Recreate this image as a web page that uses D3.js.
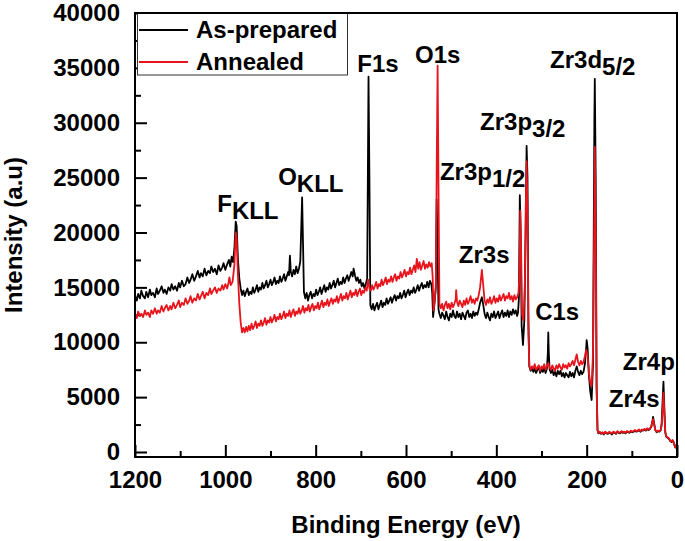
<!DOCTYPE html>
<html><head><meta charset="utf-8">
<script src="https://cdn.jsdelivr.net/npm/d3@7"></script>
<style>
html,body{margin:0;padding:0;background:#fff;}
text{font-family:"Liberation Sans",Arial,sans-serif;font-weight:bold;}
</style></head>
<body><svg id="c" width="685" height="541"></svg>
<script>
// ---- data ----
const xTicks = [1200, 1000, 800, 600, 400, 200, 0];
const yTicks = [0, 5000, 10000, 15000, 20000, 25000, 30000, 35000, 40000];
const seriesNames = ["As-prepared", "Annealed"];

const asPrepared = [
[1200,14300],[1196,13800],[1193,14400],[1189,14000],[1186,14700],[1182,14200],[1178,14000],[1175,14600],[1171,14100],[1167,14800],[1164,14300],[1160,14500],[1156,14100],[1152,14900],[1149,14400],[1145,14700],[1141,15100],[1137,14500],[1134,14800],[1130,14400],[1126,15000],[1122,14700],[1119,15300],[1115,14800],[1111,15100],[1107,14700],[1103,15400],[1100,15000],[1096,15600],[1092,15100],[1088,15300],[1084,15900],[1080,15400],[1077,15700],[1073,16200],[1069,15600],[1065,16000],[1061,16500],[1057,15900],[1054,16300],[1050,16000],[1046,16700],[1042,16100],[1038,16500],[1034,16300],[1031,16900],[1027,16400],[1023,16700],[1019,16200],[1015,17000],[1011,16500],[1007,16800],[1004,17200],[1000,16600],[996,17100],[992,17500],[989,16900],[986,17800],[983,17300],[980,18500],[977,21000],[975,20600],[972,17500],[969,15800],
[966,14900],[963,14300],[960,14700],[957,14200],[954,14600],[951,14900],[948,14300],[945,14600],[942,14400],[939,15000],[936,14500],[933,14800],[930,15200],[927,14600],[924,15000],[921,14800],[918,15400],[915,14900],[912,15200],[909,15600],[906,15000],[903,15300],[900,15700],[897,15200],[894,15500],[891,15900],[888,15300],[885,15600],[882,15400],[879,16000],[876,15500],[873,15800],[870,16200],[867,15600],[864,16000],[861,16400],[859,16100],[857,17900],[855,16400],[852,16000],[849,16600],[846,16200],[843,16900],[840,16300],[837,16700],[834,17400],[830,23200],[828,19000],
[826,14600],[823,14000],[820,14500],[817,13800],[814,14300],[811,14600],[808,14000],[805,14400],[802,14200],[799,14800],[796,14300],[793,14600],[790,15000],[787,14400],[784,14800],[781,15200],[778,14600],[775,15000],[772,14800],[769,15400],[766,14900],[763,15200],[760,15600],[757,15000],[754,15400],[751,15800],[748,15200],[745,15500],[742,15300],[739,15900],[736,15400],[733,15800],[730,16100],[727,15600],[724,16000],[721,16400],[718,16000],[716,16700],[713,16100],[710,15600],[707,15900],[704,15400],[701,15700],[698,15100],[695,15400],[692,14900],[689,15300],[686,15800],[683,34200],[681,25000],
[679,13400],[676,13000],[673,13500],[670,12900],[667,13300],[664,13600],[661,13000],[658,13400],[655,13800],[652,13200],[649,13600],[646,13400],[643,14000],[640,13500],[637,13800],[634,14100],[631,13600],[628,14000],[625,14300],[622,13800],[619,14200],[616,14000],[613,14500],[610,14000],[607,14300],[604,14700],[601,14100],[598,14500],[595,14800],[592,14300],[589,14700],[586,14500],[583,15000],[580,14500],[577,14800],[574,15200],[571,14700],[568,15100],[565,15400],[562,14900],[559,15200],[556,15000],[553,15500],[550,15000],[547,15600],[544,15300],[542,14600],[540,12300],[537,13500],[534,15000],[532,23000],[530,18000],[528,13000],
[526,12600],[523,12200],[520,12700],[517,12400],[514,12100],[511,12800],[508,12300],[505,12000],[502,12600],[499,12300],[496,12900],[493,12400],[490,12200],[487,12800],[484,12300],[481,12600],[478,12100],[475,12700],[472,12400],[469,12100],[466,12700],[463,12900],[460,12300],[457,12600],[454,12200],[451,12800],[448,12400],[445,12700],[442,12500],[439,13000],[436,13600],[432,14100],[429,13400],[426,12600],[423,12200],[420,12700],[417,12300],[414,12000],[411,12600],[408,12300],[405,12800],[402,12200],[399,12500],[396,12800],[393,12200],[390,12600],[387,12900],[384,12300],[381,12700],[378,12400],[375,12900],[372,12300],[369,12800],[366,12500],[363,13000],[360,12600],[357,12900],[354,12400],[352,12700],[350,14000],[348,23400],[346,20000],[344,11500],[341,9750],[338,12000],[335,20000],[333,27900],[331,25000],[329,12000],
[327,7800],[324,7400],[321,7700],[318,7300],[315,7600],[312,7200],[309,7500],[306,7700],[303,7200],[300,7500],[297,7300],[294,7700],[291,7200],[288,7600],[286,9000],[285,10900],[284,9200],[282,7500],[279,7200],[276,7500],[273,7000],[270,7300],[267,6900],[264,7400],[261,7100],[258,7400],[255,6900],[252,7200],[249,6800],[246,7200],[243,7000],[240,6800],[237,7300],[234,6900],[231,7200],[228,6800],[225,7400],[222,7800],[219,7300],[216,7000],[213,7400],[210,7100],[207,7300],[204,8000],[201,9500],[200,10200],[198,9500],[195,7000],[192,5500],[189,4740],[186,8000],[183,30000],[182,34000],[180,25000],[178,6000],
[176,2000],[174,1700],[171,1800],[168,1650],[165,1750],[162,1600],[159,1800],[156,1700],[153,1650],[150,1800],[147,1700],[144,1600],[141,1800],[138,1750],[135,1650],[132,1850],[129,1750],[126,1700],[123,1850],[120,1750],[117,1800],[114,1700],[111,1850],[108,1800],[105,1750],[102,1900],[99,1800],[96,1850],[93,1950],[90,1850],[87,1900],[84,2000],[81,1850],[78,2000],[75,1950],[72,2050],[69,1950],[66,2100],[63,2000],[60,2100],[57,2300],[54,2900],[53,3200],[51,2700],[48,2000],[45,1800],[42,1900],[39,1850],[36,2000],[34,2600],[32,4500],[30,6400],[28,4000],[26,1800],[24,1400],[21,1300],[18,1200],[15,1000],[12,900],[10,1050],[8,950],[6,700],[4,400],[2,600],[0,300]
];

const annealed = [
[1200,12600],[1196,12200],[1193,12800],[1189,12400],[1186,12600],[1182,12300],[1178,12900],[1175,12500],[1171,12700],[1167,12300],[1164,12900],[1160,12600],[1156,13100],[1152,12600],[1149,12900],[1145,12700],[1141,13300],[1137,12800],[1134,13100],[1130,13400],[1126,12900],[1122,13300],[1119,13000],[1115,13600],[1111,13100],[1107,13400],[1103,13800],[1100,13200],[1096,13600],[1092,13400],[1088,14000],[1084,13500],[1080,13800],[1077,14200],[1073,13600],[1069,14000],[1065,13800],[1061,14400],[1057,13900],[1054,14200],[1050,14600],[1046,14000],[1042,14500],[1038,14300],[1034,14900],[1031,14400],[1027,14700],[1023,15000],[1019,14500],[1015,14900],[1011,14700],[1007,15200],[1004,14800],[1000,15300],[996,14900],[993,15400],[991,15900],[988,15200],[984,15500],[980,17000],[977,20000],[975,19500],[972,16000],[969,13500],[966,11800],
[963,10900],[960,11300],[957,10900],[954,11400],[951,11000],[948,11500],[945,11100],[942,11700],[939,11200],[936,11500],[933,11900],[930,11300],[927,11700],[924,11500],[921,12000],[918,11500],[915,11800],[912,12200],[909,11600],[906,12000],[903,11800],[900,12300],[897,11800],[894,12100],[891,12500],[888,11900],[885,12300],[882,12100],[879,12600],[876,12100],[873,12400],[870,12800],[867,12200],[864,12600],[861,12400],[858,12900],[855,12300],[852,12700],[849,13000],[846,12400],[843,12800],[840,12600],[837,13100],[834,12600],[831,12900],[828,13300],[825,12700],[822,13100],[819,12900],[816,13400],[813,12800],[810,13200],[807,13500],[804,12900],[801,13300],[798,13100],[795,13600],[792,13000],[789,13400],[786,13800],[783,13200],[780,13600],[777,13400],[774,13900],[771,13300],[768,13700],[765,14000],[762,13500],[759,13900],[756,13700],[753,14200],[750,13600],[747,14000],[744,14400],[741,13800],[738,14200],[735,14000],[732,14500],[729,13900],[726,14300],[723,14700],[720,14100],[717,14500],[714,14300],[711,14800],[708,14200],[705,14600],[702,14900],[699,14300],[696,14700],[693,14500],[690,15000],[687,14700],[684,15700],[681,14900],
[678,14700],[675,15200],[672,14800],[669,15100],[666,15500],[663,14900],[660,15300],[657,15100],[654,15700],[651,15200],[648,15500],[645,15900],[642,15300],[639,15700],[636,15500],[633,16000],[630,15500],[627,15900],[624,16200],[621,15600],[618,16000],[615,15800],[612,16400],[609,15900],[606,16200],[603,16600],[600,16000],[597,16400],[594,16200],[591,16800],[588,16200],[585,16600],[582,17000],[579,16400],[576,17600],[573,16700],[570,17300],[567,16600],[564,17000],[561,17400],[558,16700],[555,17100],[552,16800],[549,17300],[546,16900],[543,17200],[541,16000],[539,12900],[536,14000],[534,15000],[532,26000],[530,35200],[528,24000],
[526,13500],[523,13100],[520,13500],[517,12900],[514,13400],[511,13700],[508,13100],[505,13500],[502,13000],[499,13600],[496,13200],[493,13500],[490,13900],[489,14750],[487,13700],[484,13300],[481,13800],[478,13500],[475,13200],[472,13800],[469,13400],[466,14000],[463,13500],[460,13800],[457,14200],[454,13600],[451,13900],[448,13500],[445,14000],[442,13800],[439,14300],[436,15000],[432,16600],[429,15200],[426,13800],[423,13400],[420,13900],[417,13600],[414,14100],[411,13500],[408,13800],[405,14200],[402,13600],[399,14000],[396,13700],[393,14300],[390,13800],[387,14100],[384,14400],[381,13800],[378,14200],[375,14000],[372,14500],[369,13900],[366,14200],[363,13700],[360,14300],[357,13900],[354,14100],[351,14500],[349,16000],[347,22000],[345,18000],[343,12500],[340,12000],[337,15000],[335,22000],[333,26500],[331,22000],[329,11000],
[327,7900],[324,7500],[321,7800],[318,7600],[315,8000],[312,7500],[309,7700],[306,7900],[303,7400],[300,7800],[297,7600],[294,8000],[291,7500],[288,7800],[285,8100],[282,7700],[279,7500],[276,7900],[273,7600],[270,7400],[267,7900],[264,7600],[261,8000],[258,7700],[255,7500],[252,8000],[249,7700],[246,7900],[243,7600],[240,8100],[237,7800],[234,8000],[231,8300],[228,7900],[225,8400],[222,8900],[219,8200],[216,7900],[213,8300],[210,8000],[207,8200],[204,8700],[201,9300],[198,8800],[195,7200],[192,6300],[189,6000],[186,9000],[183,22000],[182,27800],[180,20000],[178,6000],
[176,2000],[174,1750],[171,1850],[168,1700],[165,1800],[162,1650],[159,1850],[156,1750],[153,1700],[150,1850],[147,1750],[144,1700],[141,1850],[138,1800],[135,1700],[132,1900],[129,1800],[126,1750],[123,1900],[120,1800],[117,1850],[114,1750],[111,1900],[108,1850],[105,1800],[102,1950],[99,1850],[96,1900],[93,2000],[90,1900],[87,1950],[84,2050],[81,1900],[78,2050],[75,2000],[72,2100],[69,2000],[66,2150],[63,2050],[60,2150],[57,2300],[54,2800],[53,3000],[51,2600],[48,2000],[45,1850],[42,1950],[39,1900],[36,2000],[34,2400],[32,3800],[30,5400],[28,3500],[26,1900],[24,1450],[21,1350],[18,1250],[15,1050],[12,950],[10,1100],[8,900],[6,700],[4,450],[2,550],[0,350]
];

// peak annotations: main text, subscript, anchor (binding energy, intensity)
const peakLabels = [
  {main:"F",    sub:"KLL", be:1018, v:21870},
  {main:"O",    sub:"KLL", be:883,  v:24330},
  {main:"F1s",  sub:"",    be:708,  v:34620},
  {main:"O1s",  sub:"",    be:580,  v:35440},
  {main:"Zr3d", sub:"5/2", be:281,  v:34990},
  {main:"Zr3p", sub:"3/2", be:436,  v:29340},
  {main:"Zr3p", sub:"1/2", be:525,  v:24780},
  {main:"Zr3s", sub:"",    be:483,  v:17220},
  {main:"C1s",  sub:"",    be:314,  v:12030},
  {main:"Zr4p", sub:"",    be:120,  v:7470},
  {main:"Zr4s", sub:"",    be:151,  v:4100}
];

// ---- layout ----
const L = 135, R = 677, T = 13, B = 457;
const svg = d3.select("#c");
const x = d3.scaleLinear().domain([1200, 0]).range([L, R]);
const y = d3.scaleLinear().domain([-455, 40000]).range([B, T]);
const colors = ["#000000", "#e8141c"];
const FS = 24;
const FONT = '"Liberation Sans",Arial,sans-serif';

// minor ticks
svg.append("g").attr("transform", `translate(0,${B})`)
  .call(d3.axisBottom(x).tickValues(d3.range(100, 1200, 200)).tickSize(-6).tickSizeOuter(0).tickFormat(""))
  .call(g => g.select(".domain").remove())
  .selectAll("line").attr("stroke-width", 2);
svg.append("g").attr("transform", `translate(${L},0)`)
  .call(d3.axisLeft(y).tickValues(d3.range(2500, 40000, 5000)).tickSize(-6).tickSizeOuter(0).tickFormat(""))
  .call(g => g.select(".domain").remove())
  .selectAll("line").attr("stroke-width", 2);

// major axes
const xa = svg.append("g").attr("transform", `translate(0,${B})`)
  .call(d3.axisBottom(x).tickValues(xTicks).tickSize(-12).tickSizeOuter(0).tickPadding(14).tickFormat(d3.format("d")));
xa.select(".domain").remove();
xa.selectAll("line").attr("stroke-width", 2);
xa.selectAll("text").attr("font-size", FS).attr("font-family", FONT).attr("font-weight", "bold").attr("fill", "#000");

const ya = svg.append("g").attr("transform", `translate(${L},0)`)
  .call(d3.axisLeft(y).tickValues(yTicks).tickSize(-12).tickSizeOuter(0).tickPadding(15).tickFormat(d3.format("d")));
ya.select(".domain").remove();
ya.selectAll("line").attr("stroke-width", 2);
ya.selectAll("text").attr("font-size", FS).attr("font-family", FONT).attr("font-weight", "bold").attr("fill", "#000");

// data lines
const line = d3.line().x(d => x(d[0])).y(d => y(d[1]));
[asPrepared, annealed].forEach((s, i) => {
  svg.append("path").datum(s).attr("d", line)
    .attr("fill", "none").attr("stroke", colors[i]).attr("stroke-width", 1.8)
    .attr("stroke-linejoin", "round");
});

// frame
svg.append("rect").attr("x", L).attr("y", T).attr("width", R - L).attr("height", B - T)
  .attr("fill", "none").attr("stroke", "#000").attr("stroke-width", 2);

// legend
const lg = svg.append("g");
lg.append("rect").attr("x", 137.5).attr("y", T).attr("width", 210).attr("height", 62)
  .attr("fill", "#fff").attr("stroke", "#333").attr("stroke-width", 1);
seriesNames.forEach((n, i) => {
  const cy = 30 + i * 32;
  lg.append("line").attr("x1", 139).attr("x2", 188).attr("y1", cy).attr("y2", cy)
    .attr("stroke", colors[i]).attr("stroke-width", 2);
  lg.append("text").attr("x", 196).attr("y", cy + 8).attr("font-size", FS).attr("fill", "#000").text(n);
});
svg.append("line").attr("x1", L).attr("x2", R).attr("y1", T).attr("y2", T).attr("stroke", "#000").attr("stroke-width", 2);

// peak labels
peakLabels.forEach(p => {
  const t = svg.append("text").attr("x", x(p.be)).attr("y", y(p.v)).attr("font-size", FS).attr("fill", "#000");
  t.append("tspan").text(p.main);
  if (p.sub) t.append("tspan").attr("dy", 7).text(p.sub);
});

// axis titles
svg.append("text").attr("x", (L + R) / 2).attr("y", 533).attr("text-anchor", "middle")
  .attr("font-size", FS).attr("fill", "#000").text("Binding Energy (eV)");
svg.append("text").attr("transform", `translate(22,${(T + B) / 2}) rotate(-90)`).attr("text-anchor", "middle")
  .attr("font-size", FS).attr("fill", "#000").text("Intensity (a.u)");
</script></body></html>
